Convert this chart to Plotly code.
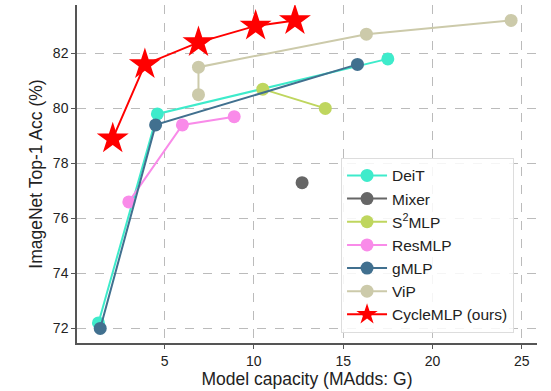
import plotly.graph_objects as go

deit_x = [1.3, 4.6, 17.5]
deit_y = [72.2, 79.8, 81.8]
mixer_x = [12.7]
mixer_y = [77.3]
s2mlp_x = [10.5, 14.0]
s2mlp_y = [80.7, 80.0]
resmlp_x = [3.0, 6.0, 8.9]
resmlp_y = [76.6, 79.4, 79.7]
gmlp_x = [1.4, 4.5, 15.8]
gmlp_y = [72.0, 79.4, 81.6]
vip_x = [6.9, 6.9, 16.3, 24.4]
vip_y = [80.5, 81.5, 82.7, 83.2]
cycle_x = [2.1, 3.9, 6.9, 10.1, 12.3]
cycle_y = [78.9, 81.6, 82.4, 83.0, 83.2]

x_ticks = [5, 10, 15, 20, 25]
y_ticks = [72, 74, 76, 78, 80, 82]

series = [
    ("DeiT", deit_x, deit_y, "#3EEBCB", "circle", 13),
    ("Mixer", mixer_x, mixer_y, "#666666", "circle", 13),
    ("S<sup>2</sup>MLP", s2mlp_x, s2mlp_y, "#BFD65E", "circle", 13),
    ("ResMLP", resmlp_x, resmlp_y, "#F98BE9", "circle", 13),
    ("gMLP", gmlp_x, gmlp_y, "#41708F", "circle", 13),
    ("ViP", vip_x, vip_y, "#CCCAAA", "circle", 13),
    ("CycleMLP (ours)", cycle_x, cycle_y, "#FF0000", "star", 24),
]

fig = go.Figure()
for name, xs, ys, color, sym, sz in series:
    fig.add_trace(go.Scatter(
        x=xs, y=ys, name=name, mode="lines+markers",
        line=dict(color=color, width=2),
        marker=dict(color=color, symbol=sym, size=sz, line=dict(width=0)),
    ))

axis_common = dict(
    showline=True, linecolor="#555555", linewidth=1.5,
    ticks="outside", ticklen=4, tickcolor="#555555",
    showgrid=True, gridcolor="#BBBBBB", griddash="dash", gridwidth=1,
    zeroline=False, mirror=False, automargin=False,
    tickfont=dict(size=14, color="#222222"),
)

fig.update_layout(
    width=551, height=391,
    margin=dict(l=77, r=14, t=5, b=48),
    plot_bgcolor="white", paper_bgcolor="white",
    font=dict(family="Liberation Sans, Arial, sans-serif", color="#222222"),
    xaxis=dict(axis_common, range=[0.1, 25.85], tickvals=x_ticks,
               title=dict(text="Model capacity (MAdds: G)", font=dict(size=17.5), standoff=3)),
    yaxis=dict(axis_common, range=[71.47, 83.76], tickvals=y_ticks,
               title=dict(text="ImageNet Top-1 Acc (%)", font=dict(size=17.5), standoff=6)),
    legend=dict(
        x=0.574, y=0.03, xanchor="left", yanchor="bottom",
        bgcolor="rgba(255,255,255,0.85)", bordercolor="#DDDDDD", borderwidth=1,
        font=dict(size=15.5, color="#222222"), tracegroupgap=0,
        itemwidth=40,
    ),
    showlegend=True,
)

fig.write_html("out.html", config={"displayModeBar": False},
               post_script="document.body.style.margin='0';")
